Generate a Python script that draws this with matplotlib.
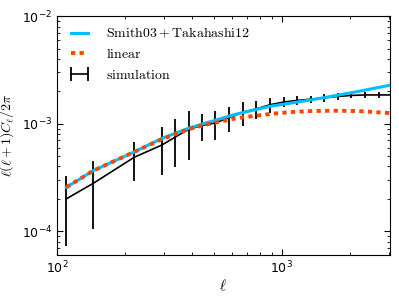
import numpy as np
import matplotlib
matplotlib.use("Agg")
import matplotlib.pyplot as plt

# simulation band powers
ell_sim = [110, 145, 220, 293, 335, 386, 441, 504, 581, 671, 766, 885,
           1021, 1166, 1346, 1538, 1774, 2027, 2338, 2699, 3100]
cl_sim = [2.0e-4, 2.79e-4, 4.86e-4, 6.34e-4, 7.5e-4, 8.9e-4, 9.6e-4, 1.015e-3,
          1.135e-3, 1.28e-3, 1.37e-3, 1.5e-3, 1.59e-3, 1.645e-3, 1.69e-3,
          1.74e-3, 1.79e-3, 1.83e-3, 1.85e-3, 1.85e-3, 1.85e-3]
err_sim = [1.27e-4, 1.75e-4, 1.93e-4, 3.0e-4, 3.55e-4, 4.3e-4, 2.75e-4, 3.05e-4,
           3.05e-4, 3.2e-4, 2.65e-4, 2.3e-4, 1.7e-4, 1.5e-4, 1.3e-4,
           1.5e-4, 1.2e-4, 1.1e-4, 1.0e-4, 1.0e-4, 1.0e-4]

# theory curves
ell_th = [110, 145, 220, 293, 386, 441, 620, 885, 1086, 1340, 1722, 2200, 3100]
cl_halofit = [2.56e-4, 3.66e-4, 5.45e-4, 7.3e-4, 9.1e-4, 9.9e-4, 1.22e-3, 1.45e-3,
              1.55e-3, 1.66e-3, 1.82e-3, 2.0e-3, 2.3e-3]
cl_linear = [2.56e-4, 3.66e-4, 5.45e-4, 7.2e-4, 8.9e-4, 9.6e-4, 1.12e-3, 1.23e-3,
             1.28e-3, 1.31e-3, 1.32e-3, 1.31e-3, 1.25e-3]

plt.rcParams["mathtext.fontset"] = "cm"
plt.rcParams["xtick.direction"] = "in"
plt.rcParams["ytick.direction"] = "in"
plt.rcParams["xtick.top"] = True
plt.rcParams["ytick.right"] = True

fig = plt.figure(figsize=(3.99, 2.99), dpi=100)
ax = fig.add_axes([0.143, 0.147, 0.834, 0.799])

ax.plot(ell_th, cl_halofit, color="#00bfff", lw=2.2,
        label=r"$\mathrm{Smith03+Takahashi12}$", zorder=3)
ax.plot(ell_th, cl_linear, color="#ff4500", lw=2.8, ls=(0, (1.1, 1.1)),
        label=r"$\mathrm{linear}$", zorder=4)
ax.errorbar(ell_sim, cl_sim, yerr=err_sim, color="k", lw=1.2, elinewidth=1.3,
            capsize=0, label=r"$\mathrm{simulation}$", zorder=2)

ax.set_xscale("log"); ax.set_yscale("log")
ax.set_xlim(100, 3020)
ax.set_ylim(6e-5, 1e-2)
ax.tick_params(which="major", length=4, labelsize=9)
ax.tick_params(which="minor", length=2)
ax.set_xlabel(r"$\ell$", fontsize=11, labelpad=1)
ax.set_ylabel(r"$\ell(\ell+1)C_\ell/2\pi$", fontsize=10, labelpad=4)

ax.legend(loc="upper left", frameon=False, numpoints=2, fontsize=10,
          handlelength=1.8, borderaxespad=0.3, handletextpad=1.0)

fig.savefig("out.png", dpi=100)
